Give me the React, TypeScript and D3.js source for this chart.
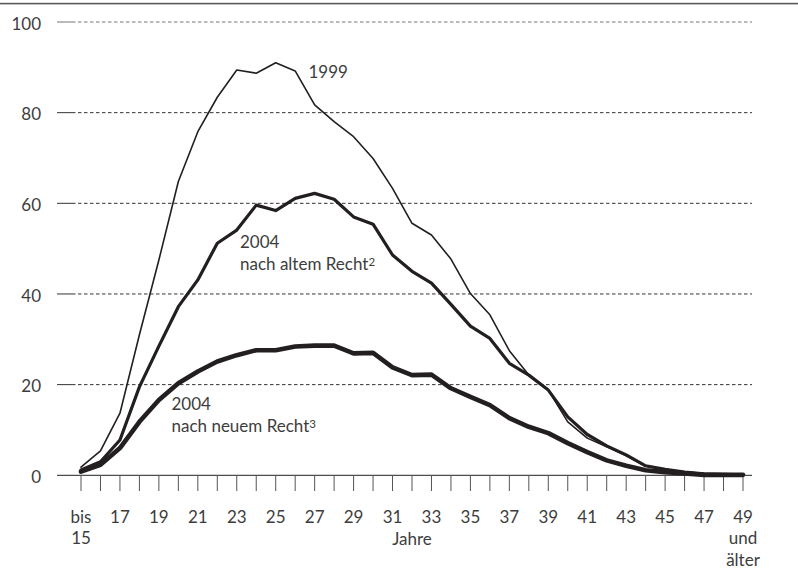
import React from "react";
import * as d3 from "d3";

const ages = [15, 16, 17, 18, 19, 20, 21, 22, 23, 24, 25, 26, 27, 28, 29, 30, 31, 32, 33, 34, 35, 36, 37, 38, 39, 40, 41, 42, 43, 44, 45, 46, 47, 48, 49];
const series1999 = [1.8, 5.4, 13.7, 31, 47.5, 64.8, 75.8, 83.4, 89.4, 88.7, 91, 89.2, 81.7, 78, 74.7, 69.9, 63.3, 55.6, 53, 47.7, 40.1, 35.4, 27.5, 22.1, 18.8, 11.8, 8.2, 6.3, 4.3, 2.0, 1.3, 0.8, 0.4, 0.3, 0.2];
const series2004alt = [1.2, 3, 7.8, 19.5, 28.5, 37.2, 43.1, 51.2, 54.1, 59.6, 58.4, 61.1, 62.2, 60.9, 57, 55.4, 48.6, 45, 42.4, 37.7, 32.9, 30.2, 24.7, 22.1, 18.8, 12.9, 9, 6.5, 4.5, 2.1, 1.3, 0.7, 0.3, 0.2, 0.1];
const series2004neu = [0.8, 2.3, 6, 11.8, 16.6, 20.3, 22.9, 25.1, 26.5, 27.6, 27.6, 28.4, 28.6, 28.6, 26.9, 27.0, 23.8, 22.1, 22.2, 19.2, 17.3, 15.5, 12.6, 10.7, 9.3, 7.1, 5.1, 3.3, 2.1, 1.1, 0.7, 0.4, 0.1, 0.1, 0.1];
const yTicks = [0, 20, 40, 60, 80, 100];
const xLabelAges = [15, 17, 19, 21, 23, 25, 27, 29, 31, 33, 35, 37, 39, 41, 43, 45, 47, 49];
const xLabelText: Record<number, string[]> = { 15: ["bis", "15"], 49: ["49", "und", "älter"] };
const axisTitle = "Jahre";

const FONT = "Lato, 'Open Sans', sans-serif";
const TXT = "#3d3d3d";
const INK = "#231f20";

export default function App() {
  const W = 798, H = 570;
  const x = d3.scaleLinear().domain([15, 49]).range([81, 743]);
  const y = d3.scaleLinear().domain([0, 100]).range([475.3, 22]);
  const line = d3
    .line<number>()
    .x((_, i) => x(ages[i]))
    .y((d) => y(d));

  const series = [
    { data: series1999, w: 1.6 },
    { data: series2004alt, w: 3.2 },
    { data: series2004neu, w: 4.6 },
  ];

  return (
    <svg width={W} height={H} style={{ position: "absolute", left: 0, top: 0, background: "#fff" }} fontFamily={FONT}>
      <rect x={0} y={2.8} width={W} height={1.6} fill="#5a5a5a" />
      {yTicks.map((t) => (
        <g key={t}>
          {t === 0 ? (
            <line x1={57} x2={752} y1={y(t)} y2={y(t)} stroke="#222" strokeWidth={1} />
          ) : (
            <>
              <line x1={57} x2={72} y1={y(t)} y2={y(t)} stroke={t === 100 ? "#777" : "#333"} strokeWidth={1} />
              <line x1={72} x2={752} y1={y(t)} y2={y(t)} stroke={t === 100 ? "#777" : "#333"} strokeWidth={1} strokeDasharray="3.5,2.5" />
            </>
          )}
          <text x={41} y={y(t) + 7.8} textAnchor="end" fontSize={17} fill={TXT}>
            {t}
          </text>
        </g>
      ))}
      {ages.map((a) => (
        <line key={a} x1={x(a)} x2={x(a)} y1={y(0)} y2={491} stroke="#555" strokeWidth={1} />
      ))}
      {xLabelAges.map((a) => {
        const lines = xLabelText[a] || [String(a)];
        return (
          <text key={a} textAnchor="middle" fontSize={17} fill={TXT}>
            {lines.map((l, i) => (
              <tspan key={i} x={x(a)} y={523 + i * 21.3}>
                {l}
              </tspan>
            ))}
          </text>
        );
      })}
      <text x={x(32)} y={544.5} textAnchor="middle" fontSize={17} fill={TXT}>
        {axisTitle}
      </text>
      {series.map((s, i) => (
        <path key={i} d={line(s.data) || ""} fill="none" stroke={INK} strokeWidth={s.w} strokeLinejoin="round" strokeLinecap="round" />
      ))}
      <text x={308.5} y={77.5} fontSize={17} fill={TXT}>1999</text>
      <text fontSize={17} fill={TXT}>
        <tspan x={240} y={248.3}>2004</tspan>
        <tspan x={240} y={270}>nach altem Recht</tspan>
        <tspan fontSize={11.5} dy={-3.8}>2</tspan>
      </text>
      <text fontSize={17} fill={TXT}>
        <tspan x={171.5} y={410}>2004</tspan>
        <tspan x={171.5} y={432}>nach neuem Recht</tspan>
        <tspan fontSize={11.5} dy={-3.8}>3</tspan>
      </text>
    </svg>
  );
}
